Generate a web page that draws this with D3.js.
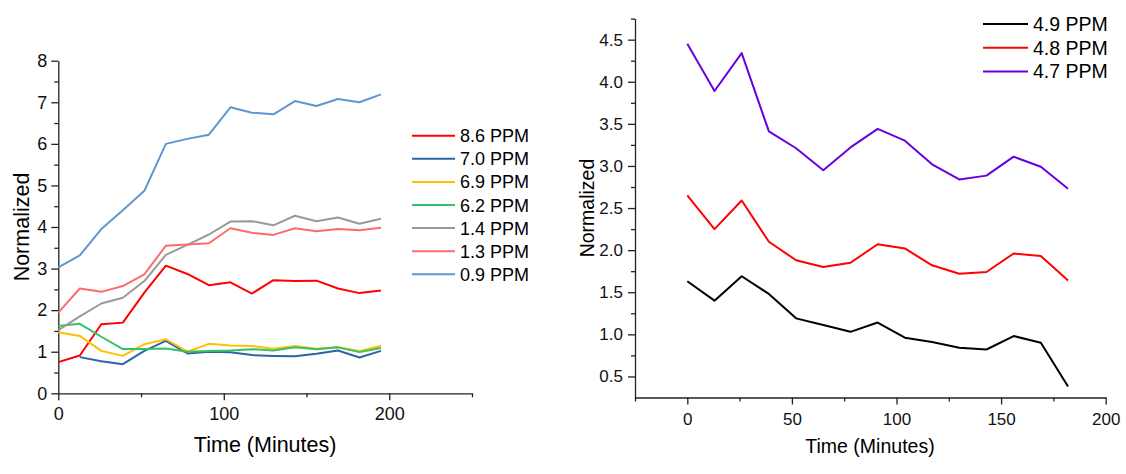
<!DOCTYPE html>
<html>
<head>
<meta charset="utf-8">
<script src="https://cdn.jsdelivr.net/npm/d3@7/dist/d3.min.js"></script>
<style>
  body { margin: 0; background: #fff; }
  svg { display: block; font-family: Arial, "Liberation Sans", sans-serif; }
  .axis path, .axis line { stroke: #222; stroke-width: 1.3; }
  .axis text { fill: #111; font-family: Arial, "Liberation Sans", sans-serif; }
</style>
</head>
<body>
<div id="chart"></div>
<script>
// ---- data ----
const leftTimes = [0, 13, 26, 39, 52, 65, 78, 91, 104, 117, 130, 143, 156, 169, 182, 195];
const leftNames = ["8.6 PPM", "7.0 PPM", "6.9 PPM", "6.2 PPM", "1.4 PPM", "1.3 PPM", "0.9 PPM"];
const leftColors = ["#ff0000", "#2f64a3", "#ffc000", "#35c06a", "#999999", "#ff6b6b", "#5f96d2"];
const ppm86 = [0.75, 0.91, 1.66, 1.70, 2.42, 3.07, 2.87, 2.60, 2.67, 2.40, 2.72, 2.70, 2.71, 2.52, 2.41, 2.47];
const ppm70 = [null, 0.87, 0.77, 0.70, 1.02, 1.26, 0.96, 1.00, 0.985, 0.92, 0.90, 0.89, 0.95, 1.03, 0.86, 1.02];
const ppm69 = [1.47, 1.38, 1.02, 0.90, 1.18, 1.30, 1.00, 1.19, 1.15, 1.14, 1.07, 1.14, 1.07, 1.11, 1.02, 1.14];
const ppm62 = [1.62, 1.67, 1.36, 1.065, 1.065, 1.08, 1.00, 1.02, 1.03, 1.06, 1.03, 1.105, 1.06, 1.105, 0.99, 1.09];
const ppm14 = [1.52, 1.85, 2.16, 2.30, 2.70, 3.33, 3.57, 3.82, 4.13, 4.14, 4.04, 4.27, 4.14, 4.23, 4.08, 4.20];
const ppm13 = [1.94, 2.52, 2.44, 2.58, 2.86, 3.55, 3.58, 3.61, 3.97, 3.86, 3.81, 3.97, 3.90, 3.95, 3.92, 3.98];
const ppm09 = [3.03, 3.32, 3.95, 4.40, 4.87, 6.00, 6.12, 6.22, 6.88, 6.75, 6.71, 7.03, 6.91, 7.08, 7.00, 7.19];
const leftSeries = [ppm86, ppm70, ppm69, ppm62, ppm14, ppm13, ppm09];
const leftXTicks = [0, 100, 200];
const leftYTicks = [0, 1, 2, 3, 4, 5, 6, 7, 8];

const rightTimes = [0, 13, 26, 39, 52, 65, 78, 91, 104, 117, 130, 143, 156, 169, 182];
const rightNames = ["4.9 PPM", "4.8 PPM", "4.7 PPM"];
const rightColors = ["#000000", "#ff0000", "#6a00e0"];
const ppm49 = [1.63, 1.40, 1.69, 1.48, 1.19, 1.11, 1.03, 1.14, 0.96, 0.91, 0.84, 0.82, 0.98, 0.90, 0.38];
const ppm48 = [2.65, 2.25, 2.59, 2.10, 1.88, 1.80, 1.85, 2.07, 2.02, 1.82, 1.72, 1.74, 1.96, 1.93, 1.64];
const ppm47 = [4.45, 3.89, 4.34, 3.41, 3.21, 2.95, 3.22, 3.44, 3.30, 3.02, 2.84, 2.885, 3.11, 2.99, 2.73];
const rightSeries = [ppm49, ppm48, ppm47];
const rightXTicks = [0, 50, 100, 150, 200];
const rightYTicks = [0.5, 1.0, 1.5, 2.0, 2.5, 3.0, 3.5, 4.0, 4.5];

const svg = d3.select("#chart").append("svg")
  .attr("width", 1126)
  .attr("height", 474);

// ---------- left panel ----------
const xL = d3.scaleLinear().domain([0, 250]).range([58.3, 472]);
const yL = d3.scaleLinear().domain([0, 8]).range([393.3, 60.7]);

const gL = svg.append("g");

// minor ticks
gL.append("g").attr("class", "axis")
  .attr("transform", `translate(0,${yL(0)})`)
  .call(d3.axisBottom(xL).tickValues([50, 150, 250]).tickSize(4).tickFormat("").tickSizeOuter(0))
  .call(g => g.select(".domain").remove());
gL.append("g").attr("class", "axis")
  .attr("transform", `translate(${xL(0)},0)`)
  .call(d3.axisLeft(yL).tickValues(d3.range(0.5, 8, 1)).tickSize(4).tickFormat("").tickSizeOuter(0))
  .call(g => g.select(".domain").remove());

const xAxL = gL.append("g").attr("class", "axis")
  .attr("transform", `translate(0,${yL(0)})`)
  .call(d3.axisBottom(xL).tickValues(leftXTicks).tickSize(7).tickPadding(7).tickSizeOuter(0));
xAxL.selectAll("text").attr("font-size", null).style("font-size", "18px");

const yAxL = gL.append("g").attr("class", "axis")
  .attr("transform", `translate(${xL(0)},0)`)
  .call(d3.axisLeft(yL).tickValues(leftYTicks).tickSize(7).tickPadding(4).tickSizeOuter(0));
yAxL.selectAll("text").style("font-size", "18px");

const lineL = d3.line()
  .defined(d => d.v != null)
  .x(d => xL(d.t))
  .y(d => yL(d.v));

leftSeries.forEach((s, i) => {
  gL.append("path")
    .datum(s.map((v, j) => ({ t: leftTimes[j], v })))
    .attr("d", lineL)
    .attr("fill", "none")
    .attr("stroke", leftColors[i])
    .attr("stroke-width", 2)
    .attr("stroke-linejoin", "round");
});

gL.append("text")
  .attr("x", (xL(0) + xL(250)) / 2)
  .attr("y", 452)
  .attr("text-anchor", "middle")
  .style("font-size", "21.5px")
  .text("Time (Minutes)");

gL.append("text")
  .attr("transform", `translate(29,${(yL(0) + yL(8)) / 2}) rotate(-90)`)
  .attr("text-anchor", "middle")
  .style("font-size", "21.5px")
  .text("Normalized");

const legL = gL.append("g");
leftNames.forEach((name, i) => {
  const y = 135.7 + i * 23.1;
  legL.append("line")
    .attr("x1", 412).attr("x2", 455)
    .attr("y1", y).attr("y2", y)
    .attr("stroke", leftColors[i])
    .attr("stroke-width", 2);
  legL.append("text")
    .attr("x", 460).attr("y", y + 6.5)
    .style("font-size", "18px")
    .text(name);
});

// ---------- right panel ----------
const xR = d3.scaleLinear().domain([-25, 200]).range([635, 1105.7]);
const yR = d3.scaleLinear().domain([0.25, 4.75]).range([397.5, 18.6]);

const gR = svg.append("g");

gR.append("g").attr("class", "axis")
  .attr("transform", `translate(0,${yR(0.25)})`)
  .call(d3.axisBottom(xR).tickValues([-25, 25, 75, 125, 175]).tickSize(4).tickFormat("").tickSizeOuter(0))
  .call(g => g.select(".domain").remove());
gR.append("g").attr("class", "axis")
  .attr("transform", `translate(${xR(-25)},0)`)
  .call(d3.axisLeft(yR).tickValues(d3.range(0.75, 4.8, 0.5)).tickSize(4).tickFormat("").tickSizeOuter(0))
  .call(g => g.select(".domain").remove());

const xAxR = gR.append("g").attr("class", "axis")
  .attr("transform", `translate(0,${yR(0.25)})`)
  .call(d3.axisBottom(xR).tickValues(rightXTicks).tickSize(7).tickPadding(8).tickSizeOuter(0));
xAxR.selectAll("text").style("font-size", "17px");

const yAxR = gR.append("g").attr("class", "axis")
  .attr("transform", `translate(${xR(-25)},0)`)
  .call(d3.axisLeft(yR).tickValues(rightYTicks).tickSize(7).tickPadding(5).tickFormat(d3.format(".1f")).tickSizeOuter(0));
yAxR.selectAll("text").style("font-size", "17px");

const lineR = d3.line()
  .x(d => xR(d.t))
  .y(d => yR(d.v));

rightSeries.forEach((s, i) => {
  gR.append("path")
    .datum(s.map((v, j) => ({ t: rightTimes[j], v })))
    .attr("d", lineR)
    .attr("fill", "none")
    .attr("stroke", rightColors[i])
    .attr("stroke-width", 2)
    .attr("stroke-linejoin", "round");
});

gR.append("text")
  .attr("x", 870)
  .attr("y", 453)
  .attr("text-anchor", "middle")
  .style("font-size", "19.5px")
  .text("Time (Minutes)");

gR.append("text")
  .attr("transform", `translate(594,${(yR(0.25) + yR(4.75)) / 2}) rotate(-90)`)
  .attr("text-anchor", "middle")
  .style("font-size", "19.5px")
  .text("Normalized");

const legR = gR.append("g");
rightNames.forEach((name, i) => {
  const y = 24 + i * 23.8;
  legR.append("line")
    .attr("x1", 983).attr("x2", 1028)
    .attr("y1", y).attr("y2", y)
    .attr("stroke", rightColors[i])
    .attr("stroke-width", 2);
  legR.append("text")
    .attr("x", 1033).attr("y", y + 6.8)
    .style("font-size", "19.5px")
    .text(name);
});
</script>
</body>
</html>
